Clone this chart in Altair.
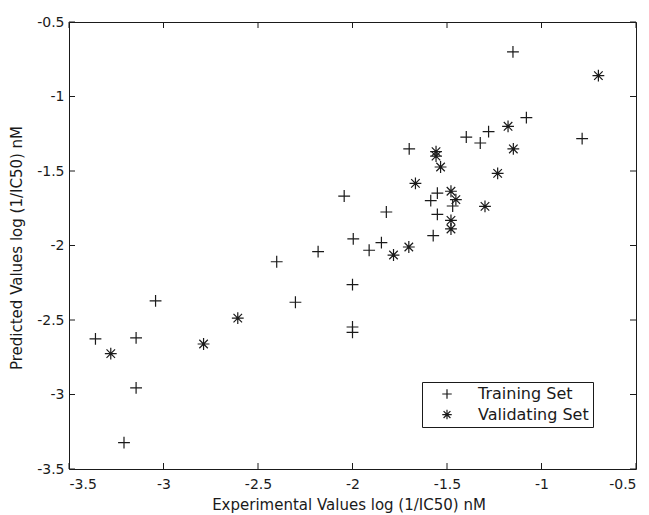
import altair as alt
import pandas as pd

# Training set (experimental, predicted)
train_x = [-3.36, -3.145, -3.145, -3.209, -3.042, -2.401, -2.302, -2.182, -2.044, -1.996,
           -2.0, -2.0, -2.0, -1.912, -1.847, -1.821, -1.700, -1.586, -1.551, -1.551,
           -1.573, -1.470, -1.398, -1.324, -1.280, -1.080, -1.151, -0.785]
train_y = [-2.627, -2.62, -2.956, -3.323, -2.372, -2.109, -2.381, -2.041, -1.668, -1.956,
           -2.263, -2.547, -2.583, -2.032, -1.981, -1.775, -1.352, -1.699, -1.648, -1.791,
           -1.934, -1.735, -1.272, -1.312, -1.236, -1.142, -0.701, -1.283]

# Validating set
val_x = [-3.279, -2.788, -2.607, -1.783, -1.702, -1.667, -1.558, -1.558, -1.534, -1.479,
         -1.453, -1.479, -1.479, -1.299, -1.232, -1.177, -1.149, -0.699]
val_y = [-2.726, -2.661, -2.487, -2.064, -2.010, -1.583, -1.37, -1.40, -1.473, -1.636,
         -1.692, -1.831, -1.889, -1.737, -1.516, -1.200, -1.352, -0.860]

set_names = ["Training Set", "Validating Set"]
tick_values = [-3.5, -3.0, -2.5, -2.0, -1.5, -1.0, -0.5]

W, H = 567, 447
FONT = "DejaVu Sans"
INK = "#1a1a1a"

df = pd.DataFrame({
    "x": train_x + val_x,
    "y": train_y + val_y,
    "set": [set_names[0]] * len(train_x) + [set_names[1]] * len(val_x),
})
ticks = pd.DataFrame({"x": tick_values, "y": tick_values})

xs = alt.Scale(domain=[-3.5, -0.5], nice=False, zero=False)
ys = alt.Scale(domain=[-3.5, -0.5], nice=False, zero=False)

x_axis = alt.Axis(
    values=tick_values, labelExpr="toString(datum.value)",
    title="Experimental Values log (1/IC50) nM",
    titleX=W / 2 - 4, titleY=40, titleBaseline="alphabetic",
    labelPadding=8)
y_axis = alt.Axis(
    values=tick_values, labelExpr="toString(datum.value)",
    title="Predicted Values log (1/IC50) nM",
    titleX=-53, titleY=H / 2 + 2, titleBaseline="middle", titleAngle=-90,
    labelPadding=5)

X = alt.X("x:Q", scale=xs, axis=x_axis)
Y = alt.Y("y:Q", scale=ys, axis=y_axis)

plus_path = "M-1,0L1,0M0,-1L0,1"
star_path = "M-1,0L1,0M0,-1L0,1M-0.72,-0.72L0.72,0.72M-0.72,0.72L0.72,-0.72"

points = alt.Chart(df).mark_point(filled=False, size=140, strokeWidth=1.2, opacity=1).encode(
    x=X, y=Y,
    shape=alt.Shape("set:N", scale=alt.Scale(domain=set_names, range=[plus_path, star_path]),
                    legend=alt.Legend(title=None, orient="none", legendX=353, legendY=360)),
    color=alt.value(INK),
)

tx_bottom = alt.Chart(ticks).mark_rule(color=INK, strokeWidth=1).encode(
    x=X, y=alt.value(H), y2=alt.value(H - 6))
tx_top = alt.Chart(ticks).mark_rule(color=INK, strokeWidth=1).encode(
    x=X, y=alt.value(0), y2=alt.value(6))
ty_left = alt.Chart(ticks).mark_rule(color=INK, strokeWidth=1).encode(
    y=Y, x=alt.value(0), x2=alt.value(6))
ty_right = alt.Chart(ticks).mark_rule(color=INK, strokeWidth=1).encode(
    y=Y, x=alt.value(W), x2=alt.value(W - 6))

chart = alt.layer(tx_bottom, tx_top, ty_left, ty_right, points).properties(
    width=W, height=H,
    autosize=alt.AutoSizeParams(type="none"),
    padding={"left": 61, "top": 14, "right": 5, "bottom": 45},
    background="white",
).configure_view(
    stroke=INK, strokeWidth=1
).configure_axis(
    grid=False, ticks=False, tickSize=0, domain=False,
    labelFont=FONT, labelFontSize=14, labelColor=INK,
    titleFont=FONT, titleFontSize=15, titleColor=INK, titleFontWeight="normal",
).configure_legend(
    strokeColor=INK, fillColor="white", padding=4,
    symbolSize=90, symbolStrokeWidth=1.2, symbolStrokeColor=INK, symbolFillColor="transparent",
    symbolOffset=13, labelOffset=23, rowPadding=4.6,
    labelFont=FONT, labelFontSize=16, labelColor=INK,
)

chart.save("out.html", embed_options={"renderer": "svg", "actions": False})
